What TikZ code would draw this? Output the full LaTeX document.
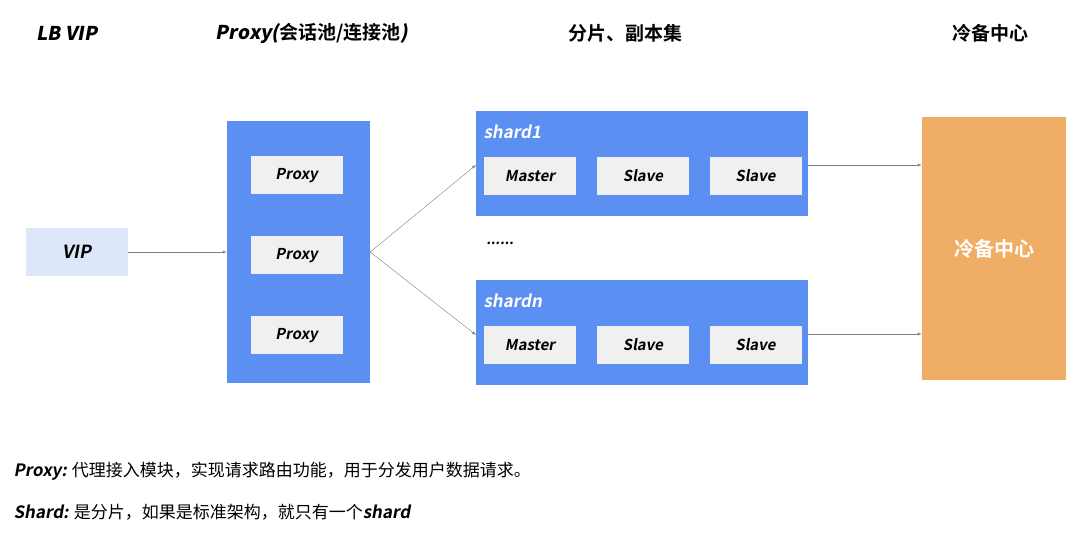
\documentclass[tikz,border=0pt]{standalone}
\usepackage{fontspec}
\setmainfont{Noto Sans CJK SC}[BoldFont={Noto Sans CJK SC Bold}]
\newfontfamily\latin{Noto Sans CJK SC Bold}[FakeSlant=0.18]
\usetikzlibrary{positioning}
\definecolor{mblue}{HTML}{5B8FF2}
\definecolor{lblue}{HTML}{DDE6F8}
\definecolor{mgray}{HTML}{F0F0F0}
\definecolor{morange}{HTML}{F0AD65}
\tikzset{
  x=1pt, y=-1pt,
  inner/.style={fill=mgray, minimum width=92pt, minimum height=38pt, font=\latin\fontsize{15}{15}\selectfont},
  head/.style={font=\bfseries\fontsize{19}{19}\selectfont},
  arr/.style={->, >=latex, draw=gray, thin}
}
\begin{document}
\begin{tikzpicture}
\useasboundingbox (0,0) rectangle (1080,534);

% titles
\node[head] at (67,33) {\latin LB VIP};
\node[head] at (312,33) {{\latin Proxy(}会话池/连接池{\latin )}};
\node[head] at (625,33) {分片、副本集};
\node[head] at (990,33) {冷备中心};

% VIP
\node[fill=lblue, minimum width=102pt, minimum height=48pt, font=\latin\fontsize{18}{18}\selectfont] (vip) at (77,252) {VIP};

% proxy container
\node[fill=mblue, minimum width=143pt, minimum height=262pt] (proxy) at (298.5,252) {};
\foreach \i/\y in {1/175.5, 2/255.5, 3/335.5}
  \node[inner] (p\i) at (296.5,\y) {Proxy};

% shards
\node[fill=mblue, minimum width=332pt, minimum height=105pt] (s1) at (642,163.5) {};
\node[fill=mblue, minimum width=332pt, minimum height=105pt] (sn) at (642,332.5) {};
\node[anchor=west, text=white, font=\latin\fontsize{17}{17}\selectfont] at (480,132) {shard1};
\node[anchor=west, text=white, font=\latin\fontsize{17}{17}\selectfont] at (480,301) {shardn};
\node[inner] (m1) at (530,176) {Master};
\node[inner] (a1) at (643,176) {Slave};
\node[inner] (b1) at (755.5,176) {Slave};
\node[inner] (mn) at (530,345) {Master};
\node[inner] (an) at (643,345) {Slave};
\node[inner] (bn) at (755.5,345) {Slave};
\node[font=\latin\fontsize{14}{14}\selectfont] at (500,243) {......};

% backup
\node[fill=morange, minimum width=144pt, minimum height=263pt, text=white, font=\bfseries\fontsize{20}{20}\selectfont] (bak) at (994,248.5) {冷备中心};

% arrows
\draw[arr] (vip.east) -- (proxy.west);
\draw[arr] (proxy.east) -- (476,165);
\draw[arr] (proxy.east) -- (476,335);
\draw[arr] (808,165) -- (bak.west |- 0,165);
\draw[arr] (808,334) -- (bak.west |- 0,334);

% notes
\node[anchor=west, font=\fontsize{17}{17}\selectfont] at (10,471) {{\latin Proxy:} 代理接入模块，实现请求路由功能，用于分发用户数据请求。};
\node[anchor=west, font=\fontsize{17}{17}\selectfont] at (10,512) {{\latin Shard:} 是分片，如果是标准架构，就只有一个{\latin shard}};
\end{tikzpicture}
\end{document}
